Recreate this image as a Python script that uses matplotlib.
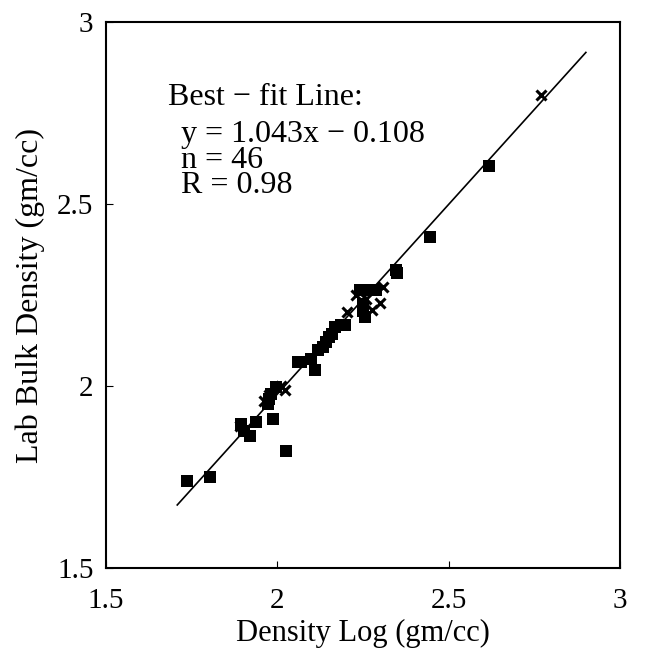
import matplotlib
matplotlib.use("Agg")
import matplotlib.pyplot as plt
import numpy as np

plt.rcParams['font.family'] = ['Liberation Serif', 'DejaVu Serif']

# core samples, measured squares
sq_x = [1.737, 1.804, 1.895, 1.904, 1.919, 1.939, 1.987, 2.026, 1.973, 1.977,
        1.982, 1.995, 2.070, 2.099, 2.109, 2.133, 2.143, 2.150, 2.158, 2.168,
        2.187, 2.197, 2.240, 2.265, 2.289, 2.250, 2.255, 2.250, 2.350, 2.345,
        2.444, 2.617, 2.060, 2.120]
sq_y = [1.738, 1.751, 1.896, 1.877, 1.864, 1.900, 1.910, 1.822, 1.951, 1.965,
        1.978, 1.997, 2.066, 2.075, 2.043, 2.107, 2.121, 2.135, 2.144, 2.162,
        2.167, 2.167, 2.265, 2.265, 2.265, 2.226, 2.190, 2.205, 2.311, 2.318,
        2.409, 2.605, 2.066, 2.100]

# crosses
cr_x = [1.890, 2.012, 2.021, 2.202, 2.275, 2.299, 2.309, 2.770, 1.975, 2.230, 2.260, 1.960]
cr_y = [1.890, 2.001, 1.988, 2.203, 2.208, 2.228, 2.272, 2.800, 1.975, 2.250, 2.240, 1.960]

slope = 1.043
icept = -0.108
fit_x = [1.708, 2.900]

fig = plt.figure(figsize=(6.46, 6.50), dpi=100)
ax = fig.add_axes([0.164, 0.126, 0.796, 0.840])

fx = np.array(fit_x)
ax.plot(fx, slope * fx + icept, color='black', lw=1.2)
ax.plot(sq_x, sq_y, 's', color='black', ms=8.5, mew=0)
ax.plot(cr_x, cr_y, 'x', color='black', ms=7.5, mew=2.2)

ax.set_xlim(1.5, 3)
ax.set_ylim(1.5, 3)
ax.set_xticks([1.5, 2, 2.5, 3])
ax.set_xticklabels(['1.5', '2', '2.5', '3'])
ax.set_yticks([1.5, 2, 2.5, 3])
ax.set_yticklabels(['1.5', '2', '2.5', '3'])
ax.tick_params(axis='x', direction='in', length=5, labelsize=21, pad=14)
ax.tick_params(axis='y', direction='in', length=5, labelsize=21, pad=9)
for s in ax.spines.values():
    s.set_linewidth(1.5)

ax.set_xlabel('Density Log (gm/cc)', fontsize=22, va='center')
ax.xaxis.set_label_coords(0.5, -0.119)
ax.set_ylabel('Lab Bulk Density (gm/cc)', fontsize=23, va='center')
ax.yaxis.set_label_coords(-0.148, 0.5)

ax.text(1.681, 2.792, 'Best \u2212 fit Line:', fontsize=23, va='center')
ax.text(1.719, 2.621, 'y = 1.043x \u2212 0.108\nn = 46\nR = 0.98',
        fontsize=23, va='center', linespacing=0.84)

fig.savefig('out.png', dpi=100)
